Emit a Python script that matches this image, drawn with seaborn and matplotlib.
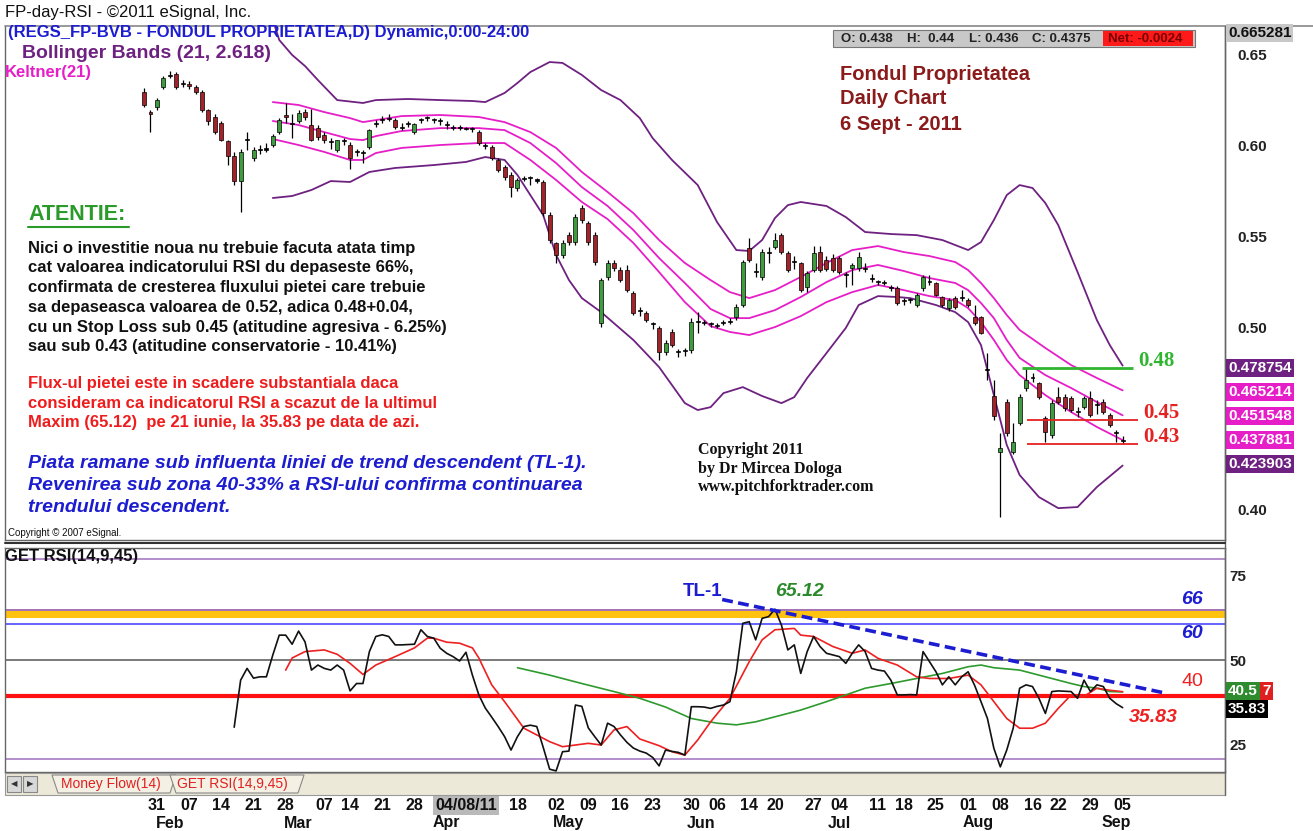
import numpy as np
import pandas as pd
import matplotlib
matplotlib.use("Agg")
import matplotlib.pyplot as plt
import seaborn as sns
from matplotlib.patches import Rectangle, Polygon
from matplotlib.transforms import blended_transform_factory

sns.set_theme(style="white")
plt.rcParams['font.family'] = ['Liberation Sans', 'DejaVu Sans']

W, H = 1313, 831

# ---- daily candles (index 0 = 27 Jan 2011, last = 6 Sep 2011) ----
opens = [
    0.629, 0.618, 0.621, 0.632, 0.638, 0.639, 0.634, 0.6335, 0.632, 0.629,
    0.619, 0.6155, 0.612, 0.602, 0.594, 0.580, 0.603, 0.593, 0.597, 0.5975,
    0.600, 0.607, 0.6165, 0.612, 0.613, 0.618, 0.611, 0.6095, 0.6055, 0.602,
    0.597, 0.6025, 0.600, 0.5965, 0.596, 0.599, 0.6115, 0.6135, 0.6145, 0.6137,
    0.610, 0.612, 0.607, 0.6135, 0.615, 0.614, 0.6135, 0.6115, 0.610, 0.6095,
    0.6093, 0.609, 0.607, 0.600, 0.599, 0.592, 0.588, 0.5835, 0.5765, 0.5818,
    0.5825, 0.581, 0.5797, 0.5615, 0.5462, 0.5396, 0.5505, 0.5467, 0.5654, 0.5571,
    0.5505, 0.5022, 0.5276, 0.5352, 0.5313, 0.5313, 0.5187, 0.5093, 0.5077, 0.5022,
    0.4995, 0.4863, 0.4973, 0.4868, 0.4872, 0.4874, 0.5027, 0.5025, 0.5018, 0.5008,
    0.5022, 0.5025, 0.5055, 0.5121, 0.5434, 0.5307, 0.5275, 0.5407, 0.5439, 0.5505,
    0.5407, 0.5357, 0.5352, 0.5220, 0.5313, 0.5412, 0.5368, 0.5379, 0.5379, 0.5287,
    0.5324, 0.5324, 0.5324, 0.527, 0.5248, 0.5245, 0.5215, 0.5214, 0.5148, 0.5146,
    0.5121, 0.5214, 0.5247, 0.5242, 0.5165, 0.5104, 0.5159, 0.5159, 0.5148, 0.5055,
    0.5055, 0.4770, 0.4621, 0.4313, 0.4588, 0.4313, 0.4473, 0.4665, 0.4718, 0.4692,
    0.4500, 0.4407, 0.4615, 0.4615, 0.4610, 0.4533, 0.4561, 0.4610, 0.4572, 0.4588,
    0.4516, 0.4423, 0.438]
highs = [
    0.6313, 0.619, 0.626, 0.638, 0.6407, 0.640, 0.636, 0.635, 0.633, 0.630,
    0.620, 0.617, 0.613, 0.603, 0.596, 0.598, 0.607, 0.599, 0.600, 0.601,
    0.606, 0.615, 0.623, 0.617, 0.619, 0.620, 0.620, 0.611, 0.607, 0.604,
    0.603, 0.604, 0.6015, 0.598, 0.597, 0.609, 0.614, 0.616, 0.617, 0.615,
    0.612, 0.613, 0.612, 0.615, 0.616, 0.615, 0.615, 0.613, 0.611, 0.611,
    0.610, 0.610, 0.608, 0.601, 0.600, 0.593, 0.589, 0.585, 0.582, 0.583,
    0.583, 0.582, 0.581, 0.563, 0.547, 0.548, 0.552, 0.562, 0.567, 0.558,
    0.552, 0.527, 0.537, 0.537, 0.533, 0.534, 0.520, 0.511, 0.509, 0.503,
    0.5005, 0.493, 0.499, 0.488, 0.4885, 0.505, 0.508, 0.504, 0.503, 0.502,
    0.504, 0.505, 0.5125, 0.537, 0.549, 0.535, 0.543, 0.544, 0.5517, 0.5515,
    0.542, 0.539, 0.536, 0.531, 0.5445, 0.5445, 0.539, 0.540, 0.539, 0.530,
    0.535, 0.541, 0.535, 0.529, 0.526, 0.526, 0.523, 0.5225, 0.516, 0.516,
    0.5185, 0.5285, 0.5285, 0.525, 0.517, 0.516, 0.517, 0.5203, 0.516, 0.512,
    0.506, 0.4857, 0.4709, 0.4418, 0.4605, 0.4473, 0.463, 0.4775, 0.475, 0.470,
    0.451, 0.460, 0.467, 0.463, 0.462, 0.456, 0.462, 0.465, 0.460, 0.4605,
    0.453, 0.4435, 0.44]
lows = [
    0.6209, 0.607, 0.619, 0.631, 0.637, 0.631, 0.632, 0.631, 0.628, 0.618,
    0.611, 0.606, 0.602, 0.589, 0.578, 0.563, 0.597, 0.591, 0.595, 0.596,
    0.599, 0.606, 0.612, 0.604, 0.612, 0.614, 0.602, 0.603, 0.601, 0.598,
    0.596, 0.600, 0.587, 0.594, 0.590, 0.598, 0.610, 0.612, 0.613, 0.609,
    0.608, 0.610, 0.606, 0.612, 0.613, 0.612, 0.611, 0.609, 0.608, 0.608,
    0.608, 0.607, 0.600, 0.598, 0.592, 0.585, 0.581, 0.5715, 0.575, 0.580,
    0.578, 0.579, 0.561, 0.546, 0.5352, 0.538, 0.545, 0.545, 0.557, 0.545,
    0.534, 0.500, 0.526, 0.531, 0.525, 0.519, 0.5065, 0.506, 0.503, 0.499,
    0.4819, 0.4845, 0.489, 0.4835, 0.484, 0.486, 0.4967, 0.501, 0.500, 0.4995,
    0.501, 0.5015, 0.504, 0.511, 0.5355, 0.5275, 0.526, 0.535, 0.543, 0.540,
    0.530, 0.532, 0.519, 0.5195, 0.530, 0.530, 0.531, 0.530, 0.529, 0.522,
    0.523, 0.531, 0.530, 0.525, 0.523, 0.523, 0.520, 0.512, 0.512, 0.513,
    0.511, 0.520, 0.523, 0.517, 0.511, 0.509, 0.510, 0.5145, 0.511, 0.501,
    0.496, 0.4709, 0.449, 0.3956, 0.440, 0.430, 0.446, 0.465, 0.470, 0.4605,
    0.4368, 0.439, 0.4575, 0.454, 0.4535, 0.4505, 0.455, 0.4505, 0.4525, 0.452,
    0.445, 0.4368, 0.436]
closes = [
    0.622, 0.617, 0.625, 0.637, 0.6385, 0.632, 0.6335, 0.6325, 0.629, 0.619,
    0.613, 0.607, 0.603, 0.594, 0.580, 0.596, 0.6025, 0.597, 0.5975, 0.598,
    0.605, 0.614, 0.6155, 0.6115, 0.6175, 0.6155, 0.603, 0.6045, 0.603, 0.6015,
    0.6025, 0.602, 0.593, 0.596, 0.5955, 0.608, 0.612, 0.6137, 0.615, 0.610,
    0.6095, 0.6115, 0.6115, 0.614, 0.6148, 0.6137, 0.613, 0.611, 0.6095, 0.6093,
    0.609, 0.6088, 0.601, 0.5995, 0.593, 0.5863, 0.5824, 0.577, 0.5808, 0.5815,
    0.582, 0.5805, 0.5626, 0.5478, 0.5396, 0.5462, 0.5467, 0.5604, 0.5588, 0.5467,
    0.5357, 0.5258, 0.5352, 0.5324, 0.5258, 0.5203, 0.5077, 0.5088, 0.5038, 0.5018,
    0.4863, 0.4913, 0.4902, 0.4863, 0.4868, 0.5027, 0.5025, 0.5022, 0.5015, 0.5005,
    0.5025, 0.5027, 0.511, 0.5358, 0.5368, 0.5302, 0.5412, 0.541, 0.5478, 0.5412,
    0.5313, 0.5357, 0.5203, 0.5297, 0.5407, 0.5313, 0.532, 0.5313, 0.5302, 0.5285,
    0.534, 0.5385, 0.532, 0.5265, 0.5245, 0.5242, 0.5214, 0.5132, 0.5145, 0.5148,
    0.5176, 0.5275, 0.525, 0.5176, 0.5121, 0.5148, 0.511, 0.5157, 0.5121, 0.5022,
    0.4967, 0.4764, 0.4511, 0.4335, 0.4418, 0.4368, 0.4615, 0.4709, 0.472, 0.4615,
    0.4423, 0.4582, 0.4588, 0.4555, 0.4544, 0.4533, 0.461, 0.4516, 0.457, 0.4533,
    0.4461, 0.442, 0.4375]

# Bollinger Bands (21, 2.618)
bb_idx = [20, 21, 23, 25, 27, 30, 34, 36, 41, 46, 51, 53, 56, 58, 60, 63, 65, 68, 71,
          74, 77, 79, 82, 86, 89, 92, 94, 96, 98, 100, 102, 106, 109, 112, 116, 120,
          124, 128, 130, 132, 134, 136, 138, 140, 142, 145, 148, 150, 152]
bb_upper = [0.6687, 0.6577, 0.6495, 0.6434, 0.6357, 0.6247, 0.6231, 0.6247, 0.6253,
            0.6247, 0.6242, 0.6236, 0.6286, 0.6341, 0.6401, 0.6456, 0.6451, 0.6385,
            0.6302, 0.6247, 0.6148, 0.6038, 0.5918, 0.5780, 0.5577, 0.5423, 0.5418,
            0.5478, 0.5599, 0.5670, 0.5687, 0.5665, 0.5604, 0.5522, 0.5511, 0.5505,
            0.5478, 0.5423, 0.5467, 0.5588, 0.5725, 0.5780, 0.5764, 0.5681, 0.5560,
            0.5302, 0.5038, 0.4901, 0.4788]
bbl_idx = [20, 23, 26, 29, 32, 35, 39, 45, 50, 53, 56, 58, 60, 62, 64, 66, 68, 71, 74,
           76, 80, 84, 86, 88, 90, 93, 96, 99, 101, 103, 106, 109, 111, 114, 117, 119,
           123, 126, 128, 130, 132, 134, 136, 139, 142, 145, 148, 152]
bb_lower = [0.5709, 0.5720, 0.5753, 0.5802, 0.5797, 0.5852, 0.5874, 0.5890, 0.5907,
            0.5934, 0.5918, 0.5835, 0.5725, 0.5615, 0.5396, 0.5258, 0.5159, 0.5082,
            0.4990, 0.4929, 0.4780, 0.4582, 0.4544, 0.4560, 0.4637, 0.4670, 0.4621,
            0.4582, 0.4615, 0.4720, 0.4857, 0.4995, 0.5121, 0.5170, 0.5165, 0.5159,
            0.5121, 0.5082, 0.5027, 0.4901, 0.4626, 0.4352, 0.4187, 0.4066, 0.4005,
            0.4011, 0.4121, 0.4239]

# Keltner(21)
kc_idx = [20, 24, 28, 32, 34, 36, 40, 46, 52, 56, 60, 64, 68, 72, 76, 80, 84, 88, 91,
          94, 98, 102, 106, 110, 114, 118, 122, 126, 128, 130, 132, 134, 136, 140,
          144, 148, 152]
kc_upper = [0.6236, 0.6220, 0.6181, 0.6148, 0.6126, 0.6137, 0.6159, 0.6165, 0.6154,
            0.6126, 0.6071, 0.5984, 0.5852, 0.5742, 0.5626, 0.5478, 0.5352, 0.5258,
            0.5192, 0.5159, 0.5203, 0.5275, 0.5352, 0.5423, 0.5445, 0.5412, 0.5390,
            0.5357, 0.5313, 0.5242, 0.5159, 0.5066, 0.4984, 0.4885, 0.4791, 0.4720,
            0.4652]
kc_mid = [0.6132, 0.6110, 0.6071, 0.6033, 0.6027, 0.6049, 0.6077, 0.6093, 0.6093,
          0.6082, 0.6011, 0.5901, 0.5769, 0.5665, 0.5533, 0.5379, 0.5242, 0.5099,
          0.5049, 0.5049, 0.5093, 0.5165, 0.5247, 0.5313, 0.5341, 0.5308, 0.5269,
          0.5242, 0.5203, 0.5132, 0.5049, 0.4929, 0.4830, 0.4736, 0.4665, 0.4588,
          0.4515]
kc_lower = [0.6033, 0.6000, 0.5962, 0.5918, 0.5918, 0.5956, 0.5984, 0.6000, 0.6011,
            0.6011, 0.5918, 0.5808, 0.5687, 0.5593, 0.5462, 0.5302, 0.5137, 0.5005,
            0.4973, 0.4956, 0.5000, 0.5060, 0.5137, 0.5192, 0.5231, 0.5203, 0.5170,
            0.5148, 0.5104, 0.5027, 0.4929, 0.4819, 0.4736, 0.4626, 0.4533, 0.4451,
            0.4379]

# GET RSI(14,9,45): RSI from index 14 on
rsi = [30, 44, 47.5, 44.6, 45, 45, 51.5, 57.4, 57.4, 54.7, 58.6, 55.4, 47, 48.5, 47.5,
       47, 48.5, 47, 40.8, 43, 43, 52.5, 57, 57.5, 57, 54.5, 54.5, 54.6, 54.7, 59,
       57, 56.5, 53.5, 52, 51, 49.7, 52.3, 45.5, 39.6, 35.7, 33, 30.2, 27.2, 23.2, 27.2,
       30.2, 30.6, 30.2, 24, 17.5, 17, 22.7, 22.9, 36.6, 36.2, 29.8, 27.2, 24.7, 31.2,
       30.2, 27.7, 25.5, 23.8, 22.9, 22.3, 21, 18.5, 23.2, 22.8, 22.5, 21.7, 36.1, 36.1,
       36, 35.6, 36.2, 36.6, 37.6, 46.5, 60.9, 61.4, 56, 62.4, 62.9, 65.12, 60.4, 53,
       54.5, 46, 52.5, 57, 54, 52, 51.5, 51, 49, 52, 54.5, 52.5, 47.5, 47, 46.7, 44,
       39.6, 39.6, 39.7, 39.6, 52.5, 49.5, 46.5, 42.6, 45, 42.6, 45, 46.5, 42.5, 37.6,
       32.6, 23.7, 18.2, 23.2, 29.7, 41.6, 42.6, 42.1, 38.6, 34.1, 40.6, 40.8, 40.7,
       40.6, 38.6, 44, 40.6, 42.6, 42.1, 38.6, 37, 35.83]
sig_idx = [22, 23, 25, 28, 30, 32, 34, 36, 39, 42, 44, 45, 47, 49, 51, 52, 54, 56, 59,
           63, 65, 67, 69, 71, 73, 75, 77, 80, 82, 84, 86, 88, 91, 94, 96, 98, 101,
           102, 104, 107, 110, 112, 114, 117, 120, 122, 125, 128, 130, 132, 134, 136,
           138, 140, 142, 144, 146, 148, 150, 152]
sig_val = [47, 50.6, 52.5, 53, 51.7, 49, 45.7, 48.5, 51, 53.6, 56.5, 56.5, 55.3, 55,
           53.6, 50.6, 42.6, 37.6, 29.7, 25.7, 24.2, 24.7, 25.2, 24.7, 29.2, 30.2, 26.5,
           24.5, 22.7, 21.7, 26.2, 31.6, 38.6, 49.5, 56, 59, 59.4, 57.4, 57, 54, 52, 53,
           50.5, 48.5, 45, 44.5, 44.5, 45.5, 42.6, 37.6, 32.6, 29.7, 29.7, 31.2, 35.6,
           39.6, 39.2, 41.6, 41, 40.57]
ma45_idx = [58, 63, 68, 73, 77, 81, 85, 89, 92, 95, 98, 102, 106, 109, 112, 116, 120,
            124, 128, 130, 132, 136, 138, 141, 144, 146, 148, 150, 152]
ma45_val = [47.7, 45.5, 43, 40.6, 38.6, 36, 32.6, 31.2, 30.7, 31.6, 33.1, 35.1, 37.6,
            39.6, 41.6, 43, 44.5, 46, 48, 48.5, 47.7, 47, 46, 44.5, 43, 42.1, 41.6,
            40.6, 40.5]

# analyst marks
tl_x = [89.8, 158.5]
tl_y = [68.0, 40.2]
levels = [0.4775, 0.449, 0.4357]
level_names = ["0.48", "0.45", "0.43"]
level_from = [136.3, 137.2, 137.2]
level_to = [153.6, 154.4, 154.4]

tick_pos = [2, 7, 12, 17, 22, 28, 32, 37, 42, 50, 58, 64, 69, 74, 79, 85, 89, 94,
            98, 104, 108, 114, 118, 123, 128, 133, 138, 142, 147, 152]
tick_lab = ["31", "07", "14", "21", "28", "07", "14", "21", "28", "04/08/11", "18",
            "02", "09", "16", "23", "30", "06", "14", "20", "27", "04", "11", "18",
            "25", "01", "08", "16", "22", "29", "05"]
month_pos = [4, 24, 47, 66, 86.5, 108, 129.5, 151]
month_lab = ["Feb", "Mar", "Apr", "May", "Jun", "Jul", "Aug", "Sep"]

PURPLE = "#6e2180"
MAGENTA = "#e61ec8"
BLUE = "#1c1cd0"

fig = plt.figure(figsize=(W / 100, H / 100), dpi=100)
ax = fig.add_axes([5 / W, 1 - 540 / H, 1220 / W, 514 / H])
ax2 = fig.add_axes([5 / W, 1 - 772 / H, 1220 / W, 224 / H])
xlim = (-21.6, 167.9)


def ftext(x, y, s, **kw):
    kw.setdefault("va", "center")
    return fig.text(x / W, 1 - y / H, s, **kw)


# ---- price panel ----
df = pd.DataFrame({"i": np.arange(len(closes)), "o": opens, "h": highs,
                   "l": lows, "c": closes})
doji = (df.c - df.o).abs() < 0.0009
colors = np.where(doji, "black", np.where(df.c >= df.o, "#3e9b3e", "#a3232b"))
ax.vlines(df.i, df.l, df.h, color="black", lw=0.9, zorder=3)
ax.bar(df.i, np.maximum((df.c - df.o).abs(), 0.0006), bottom=np.minimum(df.o, df.c),
       width=0.62, color=colors, edgecolor="black", lw=0.5, zorder=4)

sns.lineplot(x=bb_idx, y=bb_upper, ax=ax, color=PURPLE, lw=1.3, zorder=2)
sns.lineplot(x=bbl_idx, y=bb_lower, ax=ax, color=PURPLE, lw=1.3, zorder=2)
for yy in [kc_upper, kc_mid, kc_lower]:
    sns.lineplot(x=kc_idx, y=yy, ax=ax, color=MAGENTA, lw=1.3, zorder=2)

lvl_colors = ["#2fb52f", "#e52222", "#e52222"]
ax.hlines(levels, level_from, level_to, colors=lvl_colors, lw=[2, 1.3, 1.3], zorder=5)
for v, name, x1, c in zip(levels, level_names, level_to, lvl_colors):
    ax.text(x1 + 0.8, v + 0.004, name, color=c, fontsize=15, fontweight="bold",
            family="Liberation Serif", va="center", ha="left")

ax.set_xlim(*xlim)
ax.set_ylim(0.383, 0.6654)
ax.set_xticks([])
ax.yaxis.tick_right()
ax.set_yticks([0.40, 0.50, 0.55, 0.60, 0.65])
ax.set_yticklabels(["0.40", "0.50", "0.55", "0.60", "0.65"], fontweight="bold")
ax.tick_params(axis="y", length=0, pad=9, labelsize=11, labelcolor="#222")

# ---- RSI panel ----
ax2.axhspan(62.6, 64.6, color="#ffc20e", lw=0, zorder=1)
ax2.axhline(80, color="#a070c0", lw=1.1, zorder=2)
ax2.axhline(64.9, color="#8a4aa0", lw=1.1, zorder=2)
ax2.axhline(60.7, color="#3b3bff", lw=1.1, zorder=2)
ax2.axhline(50, color="#555555", lw=1.1, zorder=2)
ax2.axhline(39.3, color="#ff1010", lw=3, zorder=2)
ax2.axhline(20.5, color="#a070c0", lw=1.1, zorder=2)

sns.lineplot(x=ma45_idx, y=ma45_val, ax=ax2, color="#2e9a2e", lw=1.2, zorder=3)
sns.lineplot(x=sig_idx, y=sig_val, ax=ax2, color="#ee2020", lw=1.2, zorder=4)
sns.lineplot(x=np.arange(14, 14 + len(rsi)), y=rsi, ax=ax2, color="#111111", lw=1.2,
             zorder=5)
sns.lineplot(x=tl_x, y=tl_y, ax=ax2, color=BLUE, lw=2.6, linestyle=(0, (3, 1.5)),
             zorder=6)

ax2.set_xlim(*xlim)
ax2.set_ylim(16.67, 83.33)
ax2.yaxis.tick_right()
ax2.set_yticks([25, 50, 75])
ax2.set_yticklabels(["25", "50", "75"], fontweight="bold")
ax2.tick_params(axis="y", length=0, pad=3, labelsize=11, labelcolor="#222")
ax2.set_xticks(tick_pos)
ax2.set_xticklabels(tick_lab, fontweight="bold")
ax2.tick_params(axis="x", length=0, pad=18.5, labelsize=11.5, labelcolor="#111")
ax2.get_xticklabels()[9].set_bbox(dict(facecolor="#b9b9b9", edgecolor="none", pad=1.5))

trans = blended_transform_factory(ax2.transData, fig.transFigure)
for p, m in zip(month_pos, month_lab):
    ax2.text(p, 1 - 823 / H, m, transform=trans, ha="center", va="center",
             fontsize=11.5, fontweight="bold", color="#111")

for a in (ax, ax2):
    for s in a.spines.values():
        s.set_color("#666666")
        s.set_linewidth(1)
    a.grid(False)
ax.spines["top"].set_visible(False)

# frame lines
fig.add_artist(plt.Line2D([5 / W, 1], [1 - 26 / H] * 2, color="#888888", lw=1.2))
fig.add_artist(plt.Line2D([1225 / W] * 2, [1 - 26 / H, 1 - 795 / H], color="#666666", lw=1))
fig.add_artist(plt.Line2D([5 / W, 1225 / W], [1 - 543 / H] * 2, color="#333333", lw=1.5))

# tab strip
fig.add_artist(Rectangle((5 / W, 1 - 795 / H), 1220 / W, 22 / H, transform=fig.transFigure,
                         facecolor="#ece9d8", edgecolor="#999999", lw=0.8))
for bx in (7, 23):
    fig.add_artist(Rectangle((bx / W, 1 - 792 / H), 14 / W, 16 / H, transform=fig.transFigure,
                             facecolor="#d8d8d8", edgecolor="#888888", lw=0.8))
ftext(14, 784, "◀", fontsize=6, ha="center", color="#333", family="DejaVu Sans")
ftext(30, 784, "▶", fontsize=6, ha="center", color="#333", family="DejaVu Sans")
for x0, x1 in ((52, 176), (170, 304)):
    fig.add_artist(Polygon([(x0 / W, 1 - 775 / H), ((x0 + 6) / W, 1 - 793 / H),
                            ((x1 - 6) / W, 1 - 793 / H), (x1 / W, 1 - 775 / H)],
                           closed=True, transform=fig.transFigure, facecolor="#f4f1e4",
                           edgecolor="#888888", lw=0.8))
ftext(61, 784, "Money Flow(14)", fontsize=10, color="#e02020")
ftext(177, 784, "GET RSI(14,9,45)", fontsize=10, color="#e02020")

# ---- texts ----
ftext(5, 13, "FP-day-RSI - ©2011 eSignal, Inc.", fontsize=12, color="#111")
ftext(8, 33, "(REGS_FP-BVB - FONDUL PROPRIETATEA,D) Dynamic,0:00-24:00", fontsize=12,
      fontweight="bold", color=BLUE)
ftext(22, 53, "Bollinger Bands (21, 2.618)", fontsize=14, fontweight="bold", color=PURPLE)
ftext(5, 72, "Keltner(21)", fontsize=12, fontweight="bold", color=MAGENTA)

fig.add_artist(Rectangle((833 / W, 1 - 47 / H), 362 / W, 17 / H, transform=fig.transFigure,
                         facecolor="#c8c8c8", edgecolor="#777777", lw=0.8))
fig.add_artist(Rectangle((1103 / W, 1 - 46 / H), 90 / W, 15 / H, transform=fig.transFigure,
                         facecolor="#ff1a1a", edgecolor="none"))
for xx, s in ((841, "O: 0.438"), (907, "H:  0.44"), (969, "L: 0.436"), (1032, "C: 0.4375")):
    ftext(xx, 39, s, fontsize=9.5, fontweight="bold", color="#222")
ftext(1108, 39, "Net: -0.0024", fontsize=9.5, fontweight="bold", color="#7a0000")

for yy, s in ((74, "Fondul Proprietatea"), (99, "Daily Chart"), (124, "6 Sept - 2011")):
    ftext(840, yy, s, fontsize=14.5, fontweight="bold", color="#8b1a1a")

ftext(28, 215, "ATENTIE:", fontsize=15.5, fontweight="bold", color="#2a9a2a")
fig.add_artist(plt.Line2D([28 / W, 129 / W], [1 - 227 / H] * 2, color="#2a9a2a", lw=1.5))
black_lines = ["Nici o investitie noua nu trebuie facuta atata timp",
               "cat valoarea indicatorului RSI du depaseste 66%,",
               "confirmata de cresterea fluxului pietei care trebuie",
               "sa depaseasca valoarea de 0.52, adica 0.48+0.04,",
               "cu un Stop Loss sub 0.45 (atitudine agresiva - 6.25%)",
               "sau sub 0.43 (atitudine conservatorie - 10.41%)"]
for k, s in enumerate(black_lines):
    ftext(28, 248 + 19.8 * k, s, fontsize=12, fontweight="bold", color="#111")
red_lines = ["Flux-ul pietei este in scadere substantiala daca",
             "consideram ca indicatorul RSI a scazut de la ultimul",
             "Maxim (65.12)  pe 21 iunie, la 35.83 pe data de azi."]
for k, s in enumerate(red_lines):
    ftext(28, 383 + 20 * k, s, fontsize=12, fontweight="bold", color="#ee1c1c")
blue_lines = ["Piata ramane sub influenta liniei de trend descendent (TL-1).",
              "Revenirea sub zona 40-33% a RSI-ului confirma continuarea",
              "trendului descendent."]
for k, s in enumerate(blue_lines):
    ftext(28, 463 + 22 * k, s, fontsize=14, fontweight="bold", fontstyle="italic", color=BLUE)

for yy, s in ((450, "Copyright 2011"), (469, "by Dr Mircea Dologa"),
              (487, "www.pitchforktrader.com")):
    ftext(698, yy, s, fontsize=11.5, fontweight="bold", color="#111", family="Liberation Serif")
ftext(8, 533, "Copyright © 2007 eSignal.", fontsize=7, color="#111")

# right scale boxes
ftext(1228, 33, "0.665281", fontsize=11, fontweight="bold", color="#111",
      bbox=dict(facecolor="#c8c8c8", edgecolor="none", pad=1.2))
box_vals = ["0.478754", "0.465214", "0.451548", "0.437881", "0.423903"]
box_cols = [PURPLE, MAGENTA, MAGENTA, MAGENTA, PURPLE]
for k, (s, c) in enumerate(zip(box_vals, box_cols)):
    ftext(1228, 368 + 24 * k, s, fontsize=11, fontweight="bold", color="white",
          bbox=dict(facecolor=c, edgecolor="none", pad=1.8))
ftext(1228, 691, "40.5", fontsize=11, fontweight="bold", color="white",
      bbox=dict(facecolor="#2e8b2e", edgecolor="none", pad=1.5))
ftext(1262, 691, "7", fontsize=11, fontweight="bold", color="white",
      bbox=dict(facecolor="#e02020", edgecolor="none", pad=1.5))
ftext(1228, 709, "35.83", fontsize=11, fontweight="bold", color="white",
      bbox=dict(facecolor="black", edgecolor="none", pad=1.5))

# RSI panel labels
ftext(5, 556, "GET RSI(14,9,45)", fontsize=12, fontweight="bold", color="#111")
ftext(683, 592, "TL-1", fontsize=13.5, fontweight="bold", color=BLUE)
ftext(775, 591, "65.12", fontsize=14, fontweight="bold", fontstyle="italic", color="#2a8a2a")
ftext(1181, 600, "66", fontsize=14, fontweight="bold", fontstyle="italic", color=BLUE)
ftext(1181, 634, "60", fontsize=14, fontweight="bold", fontstyle="italic", color=BLUE)
ftext(1181, 681, "40", fontsize=14, color="#ee2020")
ftext(1129, 718, "35.83", fontsize=14, fontweight="bold", fontstyle="italic", color="#ee2020")

fig.savefig("out.png", dpi=100)
